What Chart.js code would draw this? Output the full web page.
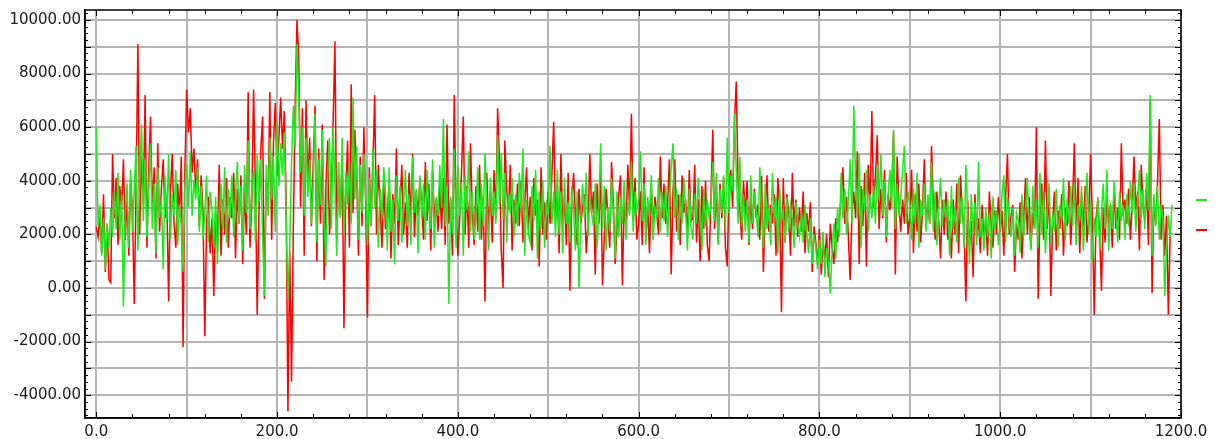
<!DOCTYPE html>
<html>
<head>
<meta charset="utf-8">
<title>Chart</title>
<script src="https://cdn.jsdelivr.net/npm/chart.js@4.4.1/dist/chart.umd.min.js"></script>
<style>
    body { margin: 0; background: #fff; }
    .khung { width: 1215px; height: 439px; }
</style>
</head>
<body>
<div class="khung"><canvas id="myChart"></canvas></div>
<script>
// mau lay tung buoc 2 don vi tren truc x, bat dau tu 0
var xBatDau = 0;
var xBuoc = 2;

var duongXanh = [
    6000, 2300, 3100, 1200, 2600, 700, 2400, 1500, 3000, 1900,
    3600, 2200, 4300, 1800, 3500, -700, 2800, 3900, 1500, 4400,
    2100, 3700, 5300, 1400, 4000, 6100, 2500, 4800, 1900, 3600,
    5400, 2200, 3900, 1300, 4500, 2600, 3300, 700, 4200, 2500,
    5000, 1800, 3500, 2700, 4400, 1600, 3100, 2300, 600, 3800,
    4600, 3000, 5100, 2700, 4000, 3300, 4500, 2100, 3800, 1800,
    2700, 4200, 1700, 3600, 2900, 1500, 3400, 900, 2800, 3900,
    2200, 4500, 1700, 3700, 2600, 4200, 1900, 3500, 4700, 2400,
    3800, 1400, 4600, 2800, 5500, 2200, 3600, 4400, 1700, 5000,
    3200, 4800, 1900, -300, 4600, 2700, 5600, 3300, 4900, 2100,
    6200, 3800, 5400, 4200, 5800, 2600, -400, 1500, 4700, 6800,
    5200, 9100, 7200, 4300, 6000, 2700, 5600, 3400, 4800, 2400,
    3900, 6500, 1700, 4800, 3100, 5900, 2500, 800, 4300, 5600,
    2200, 6000, 3800, 1200, 4700, 2600, 5600, 2000, 4300, 3100,
    4700, 2400, 7100, 3300, 5300, 1800, 4600, 2800, 5000, 3500,
    1600, 4100, 2300, 5200, 3000, 4400, 1500, 3700, 2600, 4500,
    3600, 1400, 4500, 2100, 3300, 900, 4200, 2500, 3800, 1700,
    3100, 4400, 2300, 3500, 1600, 4900, 2800, 3700, 1300, 4200,
    2600, 3900, 1800, 4400, 3000, 2200, 4800, 1500, 3400, 2700,
    4600, 3000, 6300, 2300, 3800, -600, 3400, 2000, 5200, 1500,
    4600, 2700, 3900, 1200, 4200, 2900, 5100, 2100, 3600, 1800,
    2600, 4500, 1800, 3900, 2300, 5000, 3200, 1400, 4100, 2700,
    3600, 2400, 5700, 3100, 5000, 2600, 4300, 1700, 3500, 2800,
    4100, 1900, 3500, 2300, 4300, 2900, 5200, 1200, 3300, 2000,
    1700, 3800, 2500, 4400, 1100, 3600, 2200, 4000, 1500, 3100,
    2700, 5300, 2400, 3600, 1900, 4400, 2000, 3600, 1300, 4100,
    2400, 3200, 1700, 3800, 2900, 1400, 3600, 0, 2600, 3900,
    2600, 4300, 1900, 3400, 2800, 2300, 3900, 1500, 3100, 5400,
    2200, 3800, 1400, 3000, 2100, 4100, 2800, 1100, 3600, 1900,
    3400, 2400, 4000, 1800, 3200, 2700, 4700, 2100, 3600, 2900,
    3300, 5100, 2500, 3900, 1600, 3400, 2700, 4200, 1800, 3000,
    2700, 4100, 2100, 3600, 2500, 3800, 1900, 3300, 4500, 5400,
    2600, 3700, 1800, 3500, 2400, 4100, 2900, 1400, 3700, 2300,
    1800, 3500, 2400, 4100, 2900, 1400, 3700, 2300, 3300, 2600,
    3100, 4700, 2500, 4300, 1600, 3700, 2800, 4200, 2200, 5600,
    2800, 4200, 3600, 6500, 4400, 2400, 4900, 2300, 3500, 2100,
    3300, 1700, 4200, 2400, 3600, 2900, 1900, 4500, 2800, 1500,
    3900, 2200, 3000, 1600, 4300, 2600, 3400, 1300, 3700, 2500,
    2900, 1700, 3400, 2100, 3100, 2600, 1500, 3200, 2400, 1900,
    2800, 1700, 3100, 2100, 1300, 2600, 900, 2000, 1500, 700,
    1800, 900, 2100, 400, 1500, 1000, -200, 1400, 2400, 1100,
    3000, 1900, 4300, 2600, 3700, 2000, 3200, 4800, 2400, 6800,
    4100, 2600, 5000, 1500, 3700, 2900, 4400, 2100, 3500, 2600,
    3800, 2400, 4600, 3300, 5000, 2700, 4000, 1900, 3500, 4400,
    3000, 5900, 2200, 3900, 2700, 3400, 4400, 5300, 2400, 3600,
    3100, 1800, 3700, 2400, 4300, 1500, 3300, 2700, 3900, 2100,
    3500, 2400, 4700, 2100, 3600, 1600, 3000, 4100, 2300, 3300,
    2600, 3300, 1200, 3800, 2200, 3000, 1700, 4100, 2400, 3400,
    1500, 4600, 2800, 900, 3500, 2000, 3200, 1600, 4700, 1900,
    2600, 1400, 3000, 1900, 2800, 1100, 3400, 2200, 2900, 1600,
    2300, 3500, 4200, 1700, 3400, 2600, 1900, 3000, 1200, 2800,
    2500, 1300, 3500, 1900, 2800, 4100, 2300, 1400, 3800, 2200,
    3300, 1500, 4300, 2000, 3600, 1300, 2800, 3900, 1700, 2600,
    2100, 3700, 1500, 3100, 2500, 4100, 1800, 3300, 2400, 3800,
    2300, 3900, 1600, 3100, 2500, 3800, 1400, 2900, 4300, 2000,
    3200, 1000, 2600, 1900, 3400, 1400, 2800, 3900, 2200, 4400,
    1400, 3200, 2200, 4000, 2900, 1700, 3600, 2500, 3100, 1800,
    3500, 2300, 4000, 2800, 3900, 2100, 3300, 4400, 2600, 3700,
    2200, 4300, 2900, 7200, 1200, 3500, 2300, 3800, 1800, 3100,
    2600, -300, 1500, 2700, 1900, 3100
];

var duongDo = [
    2300, 1900, 2700, 1300, 3500, 600, 2400, 300, 200, 5000,
    2600, 4100, 1600, 3800, 2900, 4800, 1800, 3300, 1200, 4100,
    2900, -600, 3600, 9100, 2000, 4900, 3100, 7200, 1500, 4400,
    6400, 2800, 4500, 1100, 5400, 2100, 3700, 4800, 2600, 3400,
    -500, 3600, 5000, 2400, 1500, 3900, 2700, 4900, -2200, 4400,
    7400, 5800, 6700, 4300, 5200, 3600, 4800, 2300, 4200, 2900,
    -1800, 2400, 3400, 1300, 2600, -300, 2800, 1700, 4600, 1200,
    3300, 2000, 4100, 1500, 3400, 2600, 4300, 1100, 3700, 2400,
    4200, 900, 3700, 2000, 7300, 1500, 3100, 7400, 3800, -1000,
    2900, 5200, 6400, -400, 4100, 3000, 7300, 1800, 5400, 6900,
    4200, 5600, 7100, 5200, 6600, 3300, -4600, 1400, -3500, 2300,
    6800, 10000, 8600, 3000, 6700, 1200, 7000, 3800, 5600, 2300,
    4600, 6800, 1000, 5200, 2400, 6100, 300, 3800, 5500, 2000,
    3500, 6200, 9200, 1800, 4200, 2700, 4800, -1500, 3600, 5500,
    1500, 7600, 2800, 5900, 4300, 1200, 4900, 2300, 6000, 3100,
    -1100, 4500, 2300, 4600, 7200, 2000, 4600, 3000, 1500, 3900,
    2200, 2700, 4000, 1100, 3500, 2400, 5200, 1600, 3100, 4600,
    2000, 3200, 1500, 4300, 2600, 5000, 1900, 3600, 2700, 4100,
    3100, 1800, 4700, 2500, 3900, 1400, 4400, 2600, 3300, 2100,
    3800, 2200, 4100, 1600, 6100, 2400, 3300, 1200, 7200, 3100,
    1200, 2600, 4300, 6400, 2000, 3800, 1500, 5400, 2800, 1600,
    3800, 2100, 4600, 1800, 3400, -500, 4300, 2200, 3600, 1700,
    4400, 2600, 6700, 4800, 1400, 0, 5500, 3700, 2900, 4600,
    1400, 3300, 2400, 3900, 2300, 4000, 1700, 3100, 4500, 2200,
    3400, 1400, 4100, 2700, 3300, 800, 4500, 2000, 3200, 1800,
    3600, 2400, 4200, 6200, 2500, 3800, 1300, 5000, 2200, 3400,
    1600, 4300, -100, 3100, 4300, 2700, 1600, 3700, 2400, 3000,
    3500, 1300, 2400, 5000, 2800, 3600, 500, 3900, 2400, 4400,
    100, 1900, 3700, 2700, 1500, 4700, 3200, 900, 2200, 3500,
    4200, 100, 3200, 2200, 4600, 3000, 6500, 2500, 4100, 1800,
    2400, 3600, 1600, 4500, 1800, 3100, 1300, 3800, 2300, 3400,
    2800, 2000, 4900, 2600, 3900, 2400, 3100, 4800, 500, 3600,
    4800, 2100, 3500, 1600, 4200, 2800, 3300, 1900, 4400, 2500,
    2600, 4600, 1700, 3300, 1000, 3800, 2200, 4000, 1600, 1000,
    3400, 5900, 2200, 3700, 1700, 3900, 2600, 4100, 1500, 800,
    3800, 4400, 3000, 6200, 7700, 3900, 2900, 1800, 4000, 2700,
    4000, 1600, 3400, 2200, 3700, 2600, 3100, 1800, 4200, 600,
    2900, 4200, 2100, 3100, 2400, 3500, 1200, 4100, 3000, -900,
    4100, 1700, 3500, 2800, 1200, 4300, 2300, 3300, 1900, 3000,
    2100, 3600, 1300, 2800, 2100, 3200, 600, 2300, 1700, 900,
    2200, 500, 1700, 1100, 2000, 400, 2400, 1500, 900, 2600,
    1700, 2600, 3400, 4500, 2400, 3400, 1900, 300, 2800, 3600,
    2600, 5100, 900, 3800, 2300, 4300, 800, 4600, 3100, 6600,
    3000, 4200, 5700, 2200, 3700, 2600, 4400, 1700, 3500, 2900,
    3700, 5800, 500, 4900, 3100, 2100, 3300, 2400, 4300, 2000,
    2600, 4400, 1300, 3500, 2100, 3900, 1700, 2900, 4800, 2300,
    3200, 2400, 5300, 3200, 1800, 3600, 2500, 1100, 3300, 2000,
    3600, 1800, 2500, 1100, 3300, 2000, 3900, 1300, 4200, 2800,
    2200, -500, 3300, 1600, 2500, 400, 3500, 1900, 2600, 1300,
    3100, 1800, 2600, 1200, 3600, 2400, 1500, 2900, 2000, 3400,
    2100, 2900, 1200, 3400, 5000, 2000, 2700, 3100, 600, 2400,
    1800, 3200, 1100, 2600, 4100, 2000, 3400, 1500, 2800, 2200,
    6000, -400, 2700, 3900, 1800, 5500, 2200, 3700, -300, 2500,
    3600, 1400, 2900, 2200, 3500, 1200, 3000, 2300, 4000, 1600,
    3100, 5400, 2000, 4100, 1300, 3400, 2300, 3800, 1700, 2700,
    5000, 2600, -1000, 2600, 3300, 2000, -100, 3000, 1700, 3500,
    2400, 3100, 1500, 3700, 2200, 3000, 1800, 5400, 2700, 3300,
    2400, 3700, 1800, 3100, 4900, 2900, 3600, 1400, 4600, 3100,
    2500, 3800, 1600, 7000, -200, 3300, 2400, 3900, 6300, 1800,
    3100, 1200, 2700, -1000, 2000
];

// khung truc
var xMin = -12.5, xMax = 1200;
var yMin = -4850, yMax = 10370;
var nhanX = [0, 100, 200, 300, 400, 500, 600, 700, 800, 900, 1000, 1100, 1200];
var nhanY = [-4000, -3000, -2000, -1000, 0, 1000, 2000, 3000, 4000, 5000, 6000, 7000, 8000, 9000, 10000];

function taoDiem(mang) {
    return mang.map(function (v, i) {
        return { x: xBatDau + i * xBuoc, y: v };
    });
}

function datTick(mang) {
    return function (s) {
        s.ticks = mang.map(function (v) { return { value: v }; });
    };
}

// ve vach nho ben trong khung (4 canh)
var vachKhung = {
    id: 'vachKhung',
    afterDraw: function (chart) {
        var ctx = chart.ctx;
        var a = chart.chartArea;
        var sx = chart.scales.x, sy = chart.scales.y;
        ctx.save();
        ctx.strokeStyle = '#000';
        ctx.lineWidth = 1;
        ctx.beginPath();
        for (var v = Math.ceil(yMin / 250) * 250; v <= yMax; v += 250) {
            var py = Math.round(sy.getPixelForValue(v)) + 0.5;
            var dai = v % 1000 === 0 ? 6 : 3;
            ctx.moveTo(a.left, py); ctx.lineTo(a.left + dai, py);
            ctx.moveTo(a.right, py); ctx.lineTo(a.right - dai, py);
        }
        for (var t = 0; t <= xMax; t += 40) {
            var px = Math.round(sx.getPixelForValue(t)) + 0.5;
            var d2 = t % 200 === 0 ? 6 : 4;
            ctx.moveTo(px, a.bottom); ctx.lineTo(px, a.bottom - d2);
            ctx.moveTo(px, a.top); ctx.lineTo(px, a.top + d2);
        }
        ctx.stroke();
        ctx.lineWidth = 1.5;
        ctx.strokeRect(a.left, a.top, a.right - a.left, a.bottom - a.top);
        ctx.restore();
    }
};

var ctx = document.getElementById('myChart').getContext('2d');
var myChart = new Chart(ctx, {
    type: 'line',
    data: {
        datasets: [{
            label: '',
            data: taoDiem(duongXanh),
            borderColor: '#1ee81e',
            backgroundColor: '#1ee81e',
            borderWidth: 1.5,
            pointRadius: 0,
            tension: 0
        }, {
            label: '',
            data: taoDiem(duongDo),
            borderColor: '#ff0000',
            backgroundColor: '#ff0000',
            borderWidth: 1.5,
            pointRadius: 0,
            tension: 0
        }]
    },
    options: {
        responsive: true,
        maintainAspectRatio: false,
        animation: false,
        layout: { padding: { top: 10, right: 0, bottom: 0, left: 0 } },
        plugins: {
            tooltip: { enabled: false },
            legend: {
                position: 'right',
                align: 'start',
                maxWidth: 34,
                // tieu de rong chi de day hai vach chu giai xuong giua
                title: { display: true, text: '', font: { size: 10 }, padding: { top: 155.5, bottom: 0 } },
                labels: {
                    boxWidth: 11,
                    boxHeight: 2,
                    padding: 15,
                    font: { size: 15 },
                    generateLabels: function (chart) {
                        return Chart.defaults.plugins.legend.labels.generateLabels(chart).map(function (l) {
                            l.lineWidth = 0;
                            l.text = '';
                            return l;
                        });
                    }
                }
            }
        },
        scales: {
            x: {
                type: 'linear',
                min: xMin,
                max: xMax,
                afterBuildTicks: datTick(nhanX),
                afterFit: function (s) { s.height = 21; },
                border: { color: '#000', width: 1.5 },
                grid: {
                    drawTicks: false,
                    lineWidth: 2,
                    color: '#b4b4b4'
                },
                ticks: {
                    autoSkip: false,
                    maxRotation: 0,
                    padding: 5,
                    color: '#1a1a1a',
                    font: { family: 'DejaVu Sans', size: 15 },
                    callback: function (v) {
                        return v % 200 === 0 ? v.toFixed(1) : '';
                    }
                }
            },
            y: {
                min: yMin,
                max: yMax,
                afterBuildTicks: datTick(nhanY),
                afterFit: function (s) {
                    s.width = 85;
                    s.paddingTop = 0;
                    s.paddingBottom = 0;
                },
                border: { color: '#000', width: 1.5 },
                grid: {
                    drawTicks: false,
                    lineWidth: 2,
                    color: '#b4b4b4'
                },
                ticks: {
                    autoSkip: false,
                    padding: 4,
                    color: '#1a1a1a',
                    font: { family: 'DejaVu Sans', size: 15 },
                    callback: function (v) {
                        return v % 2000 === 0 ? v.toFixed(2) : '';
                    }
                }
            }
        }
    },
    plugins: [vachKhung]
});
</script>
</body>
</html>
